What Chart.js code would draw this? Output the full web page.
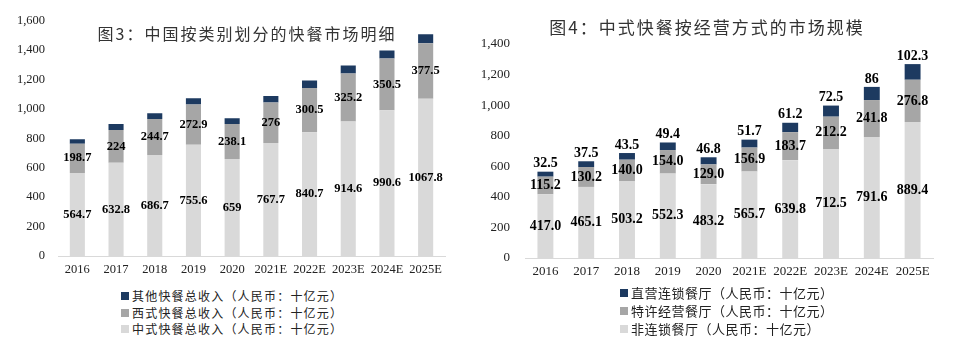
<!DOCTYPE html>
<html><head><meta charset="utf-8">
<script src="https://cdn.jsdelivr.net/npm/chart.js@4.4.0/dist/chart.umd.min.js"></script>
<style>
html,body{margin:0;padding:0;background:#fff;width:954px;height:352px;overflow:hidden;position:relative;font-family:"Noto Sans CJK SC";}
.wrap{position:absolute;top:0;}
canvas{display:block}
.title{position:absolute;white-space:nowrap;transform:translate(-50%,-50%);font-size:16px;color:#333;letter-spacing:2px;line-height:20px;}
.legend{position:absolute;color:#222;}
.legend div{display:flex;align-items:center;white-space:nowrap;}
.legend span.sw{display:inline-block;width:8px;height:8px;margin-right:3px;}
</style></head>
<body>
<div class="wrap" style="left:0;width:477px;height:285px"><canvas id="c1" width="477" height="285"></canvas></div>
<div class="wrap" style="left:477px;width:477px;height:285px"><canvas id="c2" width="477" height="285"></canvas></div>
<div class="title" style="left:247px;top:33px">图3：中国按类别划分的快餐市场明细</div>
<div class="title" style="left:707px;top:27px;font-size:17px">图4：中式快餐按经营方式的市场规模</div>
<div class="legend" id="l1" style="left:121px;top:288px;font-size:12px;letter-spacing:1.2px;line-height:16.5px"></div>
<div class="legend" id="l2" style="left:620px;top:284px;font-size:13px;letter-spacing:0.5px;line-height:18px"></div>
<script>
// ---- Chart 3 data ----
const years = ['2016','2017','2018','2019','2020','2021E','2022E','2023E','2024E','2025E'];
const chineseFastFood = [564.7, 632.8, 686.7, 755.6, 659, 767.7, 840.7, 914.6, 990.6, 1067.8];
const westernFastFood = [198.7, 224, 244.7, 272.9, 238.1, 276, 300.5, 325.2, 350.5, 377.5];
const otherFastFood   = [30, 40, 39, 44, 39, 44, 51, 54, 55, 62];
const leftYTicks = [0, 200, 400, 600, 800, 1000, 1200, 1400, 1600];
const leftLabels = ['其他快餐总收入（人民币：十亿元）','西式快餐总收入（人民币：十亿元）','中式快餐总收入（人民币：十亿元）'];

// ---- Chart 4 data ----
const nonChain   = [417.0, 465.1, 503.2, 552.3, 483.2, 565.7, 639.8, 712.5, 791.6, 889.4];
const franchise  = [115.2, 130.2, 140.0, 154.0, 129.0, 156.9, 183.7, 212.2, 241.8, 276.8];
const directOps  = [32.5, 37.5, 43.5, 49.4, 46.8, 51.7, 61.2, 72.5, 86, 102.3];
const rightYTicks = [0, 200, 400, 600, 800, 1000, 1200, 1400];
const rightLabels = ['直营连锁餐厅（人民币：十亿元）','特许经营餐厅（人民币：十亿元）','非连锁餐厅（人民币：十亿元）'];

const NAVY = '#1d3a60', MID = '#a6a6a6', LIGHT = '#d9d9d9';

const segLabels = {
  id: 'segLabels',
  afterDatasetsDraw(chart) {
    const ctx = chart.ctx;
    const fs = chart.options.plugins.segLabels.size;
    ctx.save();
    ctx.font = 'bold ' + fs + 'px "Liberation Serif"';
    ctx.fillStyle = '#000';
    ctx.textAlign = 'center';
    ctx.textBaseline = 'middle';
    chart.data.datasets.forEach((ds, di) => {
      if (!ds.labelMode) return;
      const meta = chart.getDatasetMeta(di);
      meta.data.forEach((bar, i) => {
        const v = ds.data[i];
        const txt = ds.fixed ? v.toFixed(1) : String(v);
        const y = ds.labelMode === 'top' ? bar.y - 8 : (bar.y + bar.base) / 2;
        ctx.fillText(txt, bar.x, y);
      });
    });
    ctx.restore();
  }
};

function makeChart(id, cfg) {
  return new Chart(document.getElementById(id), {
    type: 'bar',
    data: { labels: years, datasets: cfg.datasets },
    options: {
      responsive: false,
      animation: false,
      layout: { padding: cfg.padding },
      plugins: { legend: { display: false }, title: { display: false }, tooltip: { enabled: false }, segLabels: { size: cfg.labelSize } },
      datasets: { bar: { categoryPercentage: 1, barPercentage: 0.39, borderWidth: 0 } },
      scales: {
        x: {
          stacked: true,
          grid: { display: false, drawTicks: false },
          border: { display: true, color: '#d9d9d9', width: 1 },
          ticks: { font: { family: 'Liberation Serif', size: cfg.xFont }, color: '#222', padding: cfg.xPad, maxRotation: 0, autoSkip: false },
          afterFit(s) { s.height = 22; }
        },
        y: {
          stacked: true, min: 0, max: cfg.yTicks[cfg.yTicks.length - 1],
          grid: { display: false, drawTicks: false },
          border: { display: false },
          ticks: { font: { family: 'Liberation Serif', size: cfg.yFont }, color: '#222', padding: cfg.yPad, callback: v => v.toLocaleString('en-US') },
          afterBuildTicks(s) { s.ticks = cfg.yTicks.map(v => ({ value: v })); },
          afterFit(s) { s.width = cfg.yWidth; }
        }
      }
    },
    plugins: [segLabels]
  });
}

makeChart('c1', {
  datasets: [
    { label: leftLabels[2], data: chineseFastFood, backgroundColor: LIGHT, labelMode: 'center' },
    { label: leftLabels[1], data: westernFastFood, backgroundColor: MID, labelMode: 'center' },
    { label: leftLabels[0], data: otherFastFood, backgroundColor: NAVY }
  ],
  padding: { top: 14, right: 32, bottom: 7, left: 0 },
  yTicks: leftYTicks, yWidth: 58, yPad: 13, yFont: 12.5, xFont: 12.5, xPad: 6, labelSize: 12.5
});

makeChart('c2', {
  datasets: [
    { label: rightLabels[2], data: nonChain, backgroundColor: LIGHT, labelMode: 'center', fixed: true },
    { label: rightLabels[1], data: franchise, backgroundColor: MID, labelMode: 'center', fixed: true },
    { label: rightLabels[0], data: directOps, backgroundColor: NAVY, labelMode: 'top' }
  ],
  padding: { top: 44, right: 21, bottom: 5, left: 0 },
  yTicks: rightYTicks, yWidth: 48, yPad: 15, yFont: 13, xFont: 13, xPad: 6, labelSize: 14
});

function legend(id, labels, colors) {
  const el = document.getElementById(id);
  labels.forEach((t, i) => {
    const row = document.createElement('div');
    const sw = document.createElement('span');
    sw.className = 'sw'; sw.style.background = colors[i];
    row.appendChild(sw);
    row.appendChild(document.createTextNode(t));
    el.appendChild(row);
  });
}
legend('l1', leftLabels, [NAVY, MID, LIGHT]);
legend('l2', rightLabels, [NAVY, MID, LIGHT]);
</script>
</body></html>
